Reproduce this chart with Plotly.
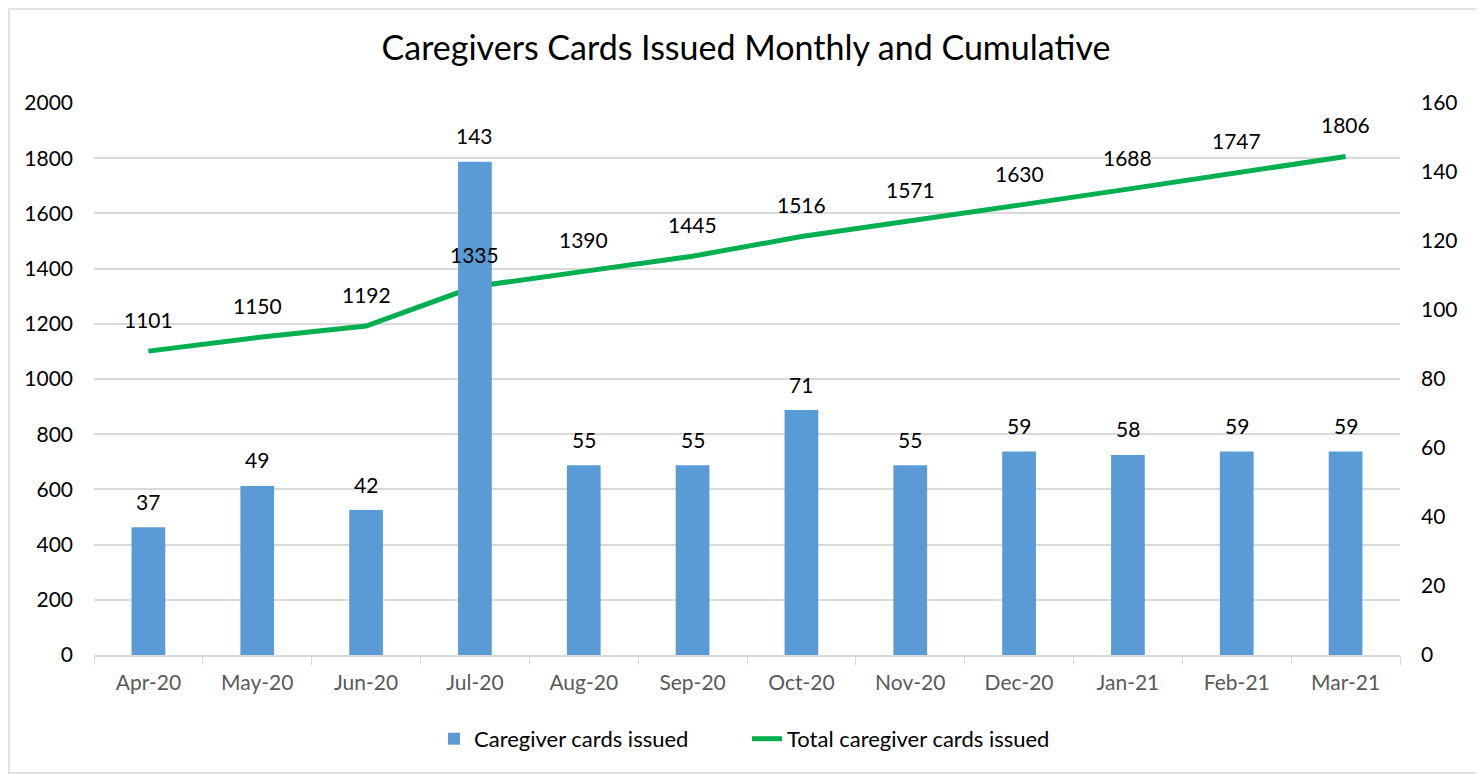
import plotly.graph_objects as go

months = ["Apr-20", "May-20", "Jun-20", "Jul-20", "Aug-20", "Sep-20",
          "Oct-20", "Nov-20", "Dec-20", "Jan-21", "Feb-21", "Mar-21"]
monthly = [37, 49, 42, 143, 55, 55, 71, 55, 59, 58, 59, 59]
cumulative = [1101, 1150, 1192, 1335, 1390, 1445, 1516, 1571, 1630, 1688, 1747, 1806]

FONT = "Lato, 'Open Sans', sans-serif"
BAR_COLOR = "#5b9bd5"
LINE_COLOR = "#00b050"
GRID = "#d9d9d9"

fig = go.Figure()
fig.add_trace(go.Bar(
    x=months, y=monthly, name="Caregiver cards issued",
    marker=dict(color=BAR_COLOR, line=dict(width=0)),
    width=0.31, yaxis="y2", hoverinfo="x+y",
))
fig.add_trace(go.Scatter(
    x=months, y=cumulative, name="Total caregiver cards issued",
    mode="lines", line=dict(color=LINE_COLOR, width=5),
    yaxis="y", hoverinfo="x+y",
))

annotations = []
for m, v in zip(months, monthly):
    annotations.append(dict(x=m, y=v, xref="x", yref="y2", text=str(v),
                            showarrow=False, yshift=26,
                            font=dict(family=FONT, size=21, color="#000000")))
for m, v in zip(months, cumulative):
    annotations.append(dict(x=m, y=v, xref="x", yref="y", text=str(v),
                            showarrow=False, yshift=32,
                            font=dict(family=FONT, size=21, color="#000000")))

fig.update_layout(
    width=1476, height=766,
    margin=dict(l=86, r=84, t=95, b=119),
    paper_bgcolor="white", plot_bgcolor="white",
    font=dict(family=FONT, size=20, color="#000000"),
    title=dict(text="Caregivers Cards Issued Monthly and Cumulative",
               x=0.5, xanchor="center", y=0.948, yanchor="middle",
               font=dict(family=FONT, size=34, color="#000000")),
    xaxis=dict(showgrid=False, showline=True, linecolor=GRID, linewidth=1.5,
               ticks="outside", tickson="boundaries", ticklen=8, tickcolor=GRID,
               tickfont=dict(family=FONT, size=21, color="#595959"),
               ticklabelstandoff=8, zeroline=False),
    yaxis=dict(range=[0, 2000], dtick=200, showgrid=True, gridcolor=GRID,
               gridwidth=1.5, zeroline=False, showline=False,
               tickfont=dict(family=FONT, size=21, color="#000000"),
               ticklabelstandoff=20),
    yaxis2=dict(range=[0, 160], dtick=20, overlaying="y", side="right",
                showgrid=False, zeroline=False, showline=False,
                tickfont=dict(family=FONT, size=21, color="#000000"),
                ticklabelstandoff=20),
    legend=dict(orientation="h", x=0.5, xanchor="center", y=-0.152,
                yanchor="middle", font=dict(family=FONT, size=22, color="#000000"),
                traceorder="normal", entrywidth=268, entrywidthmode="pixels"),
    bargap=0.69,
    annotations=annotations,
    shapes=[dict(type="rect", xref="paper", yref="paper",
                 x0=-0.0651, x1=1.0597, y0=-0.2138, y1=1.1703,
                 line=dict(color=GRID, width=1.5), fillcolor="rgba(0,0,0,0)",
                 layer="below")],
    showlegend=True,
)

fig.write_html("out.html")
